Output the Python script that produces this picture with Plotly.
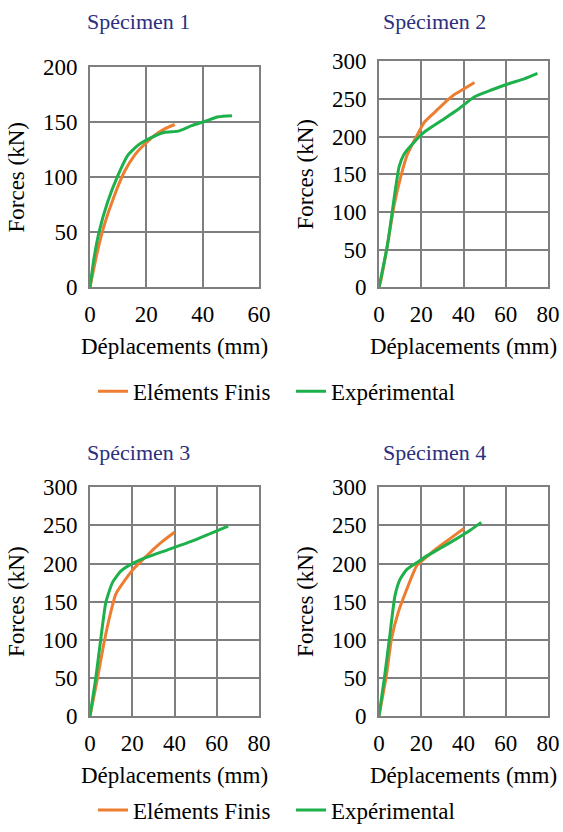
import plotly.graph_objects as go

# Spécimen 1
fe1_x = [0, 2.6, 5, 8.6, 12.2, 15.8, 19.4, 22.9, 26.5, 30.1]
fe1_y = [0, 32, 56, 83, 105, 120, 130, 138, 144, 148]
ex1_x = [0, 1.4, 3.2, 6.2, 9.8, 13.4, 17, 21.7, 26.5, 31.3, 36.1, 40.9, 45.6, 50.4]
ex1_y = [0, 26, 50, 77, 101, 120, 129, 136, 141, 142, 147, 151, 155, 156]

# Spécimen 2
fe2_x = [0, 0.8, 4, 7.1, 10.3, 13.5, 17.5, 21.4, 26.2, 31, 35.7, 40.5, 45.2]
fe2_y = [0, 8, 56, 108, 147, 177, 199, 219, 232, 245, 256, 264, 272]
ex2_x = [0, 4, 7.1, 9.5, 11.9, 16.7, 21.4, 29.4, 37.3, 45.2, 53.2, 61, 69, 75]
ex2_y = [0, 56, 117, 160, 177, 193, 206, 221, 236, 253, 262, 270, 277, 284]

# Spécimen 3
fe3_x = [0, 3.5, 6.7, 9.8, 12.2, 16.2, 21, 25.7, 30.5, 35.2, 40]
fe3_y = [0, 49, 97, 136, 160, 177, 194, 207, 220, 231, 241]
ex3_x = [0, 2.7, 5.1, 7.5, 10.6, 14.6, 19.4, 25.7, 36.8, 47.9, 57.5, 65.4]
ex3_y = [0, 49, 101, 149, 175, 190, 199, 207, 218, 229, 240, 249]

# Spécimen 4
fe4_x = [0, 3.5, 5.9, 9.1, 13.1, 17.8, 21, 27.4, 33.8, 40.2]
fe4_y = [0, 53, 101, 136, 166, 197, 205, 220, 233, 246]
ex4_x = [0, 2.7, 5.1, 7.5, 9.9, 13.1, 17.8, 22.6, 29, 37, 43.3, 48.4]
ex4_y = [0, 53, 105, 157, 179, 192, 201, 210, 220, 233, 244, 254]

titles = ["Spécimen 1", "Spécimen 2", "Spécimen 3", "Spécimen 4"]
x_ranges = [60, 80, 80, 80]
y_ranges = [200, 300, 300, 300]

FE_COLOR = "#ED7D31"
EX_COLOR = "#1DB04B"
GRID = "#7F7F7F"
TITLE_COLOR = "#2B2F7E"
FONT = "Liberation Serif"
W, H = 563, 832


def px_x(v):
    return v / W


def px_y(v):
    return 1 - v / H


# pixel boxes of each plot area (left, right, top, bottom)
boxes = [(90, 259, 68, 290), (379, 548, 62, 290),
         (90, 259, 492, 723), (379, 548, 492, 723)]
title_pos = [(138, 22), (434, 22), (138, 457), (434, 457)]

data = [(fe1_x, fe1_y, ex1_x, ex1_y), (fe2_x, fe2_y, ex2_x, ex2_y),
        (fe3_x, fe3_y, ex3_x, ex3_y), (fe4_x, fe4_y, ex4_x, ex4_y)]

fig = go.Figure()
layout = {}
annotations = []
for i, (fx, fy, ex, ey) in enumerate(data):
    n = "" if i == 0 else str(i + 1)
    legend = "legend" if i < 2 else "legend2"
    show = i in (0, 2)
    fig.add_trace(go.Scatter(
        x=fx, y=fy, mode="lines", name="Eléments Finis",
        line=dict(color=FE_COLOR, width=3, shape="spline", smoothing=0.5),
        xaxis="x" + n, yaxis="y" + n, legend=legend, showlegend=show,
    ))
    fig.add_trace(go.Scatter(
        x=ex, y=ey, mode="lines", name="Expérimental",
        line=dict(color=EX_COLOR, width=3, shape="spline", smoothing=0.5),
        xaxis="x" + n, yaxis="y" + n, legend=legend, showlegend=show,
    ))
    l, r, t, b = boxes[i]
    ax = dict(
        showgrid=True, gridcolor=GRID, gridwidth=2,
        showline=True, linecolor=GRID, linewidth=2, mirror=True,
        zeroline=False, ticks="", automargin=False,
        tickfont=dict(family=FONT, size=23, color="black"),
        fixedrange=True,
    )
    layout["xaxis" + n] = dict(
        ax, domain=[px_x(l), px_x(r)], range=[0, x_ranges[i]], dtick=20,
        anchor="y" + n, ticklabelstandoff=5,
        title=dict(text="Déplacements (mm)", standoff=12,
                   font=dict(family=FONT, size=23, color="black")),
    )
    layout["yaxis" + n] = dict(
        ax, domain=[px_y(b), px_y(t)], range=[0, y_ranges[i]], dtick=50,
        anchor="x" + n, ticklabelstandoff=6,
        title=dict(text="Forces (kN)", standoff=12,
                   font=dict(family=FONT, size=23, color="black")),
    )
    tx, ty = title_pos[i]
    annotations.append(dict(
        text=titles[i], x=px_x(tx), y=px_y(ty),
        xref="paper", yref="paper", showarrow=False,
        xanchor="center", yanchor="middle",
        font=dict(size=22, color=TITLE_COLOR, family=FONT),
    ))

leg = dict(orientation="h", xanchor="left", yanchor="middle",
           font=dict(family=FONT, size=23, color="black"),
           bgcolor="rgba(0,0,0,0)", itemwidth=30, entrywidth=153)

fig.update_layout(
    width=W, height=H,
    paper_bgcolor="white", plot_bgcolor="white",
    font=dict(family=FONT, size=23, color="black"),
    margin=dict(l=0, r=0, t=0, b=0),
    annotations=annotations,
    legend=dict(leg, x=px_x(93), y=px_y(395)),
    legend2=dict(leg, x=px_x(93), y=px_y(818)),
    **layout,
)

# page body without its default margin, so the figure fills the window
fig.write_html(
    "out.html",
    config={"displayModeBar": False},
    post_script="document.body.style.margin='0';"
                "document.body.style.overflow='hidden';",
)
